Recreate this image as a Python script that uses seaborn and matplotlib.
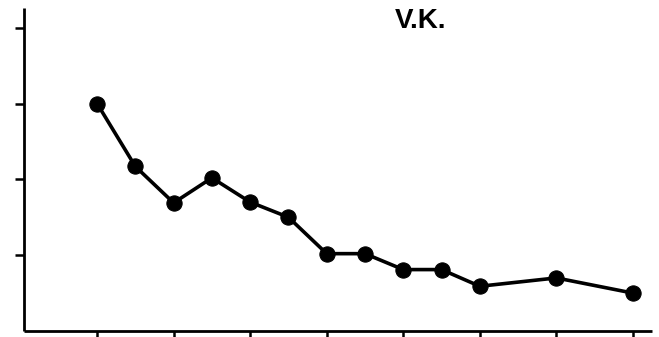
import matplotlib
matplotlib.use("Agg")
import matplotlib.pyplot as plt
import seaborn as sns
import pandas as pd

# Measurements per session for subject V.K.
sessions = [2, 3, 4, 5, 6, 7, 8, 9, 10, 11, 12, 14, 16]
values = [3.0, 2.17, 1.69, 2.02, 1.70, 1.50, 1.02, 1.02, 0.81, 0.81, 0.59, 0.70, 0.50]
x_ticks = [2, 4, 6, 8, 10, 12, 14, 16]
y_ticks = [1, 2, 3, 4]
subject = "V.K."

df = pd.DataFrame({"session": sessions, "value": values})

sns.set_style("ticks")
plt.rcParams["font.family"] = ["Liberation Sans", "DejaVu Sans"]

fig = plt.figure(figsize=(6.59, 3.37), dpi=100)
ax = fig.add_axes([0.0364, 0.0178, 0.953, 0.9585])

sns.lineplot(data=df, x="session", y="value", ax=ax, color="black",
             linewidth=2.6, marker="o", markersize=11,
             markerfacecolor="black", markeredgecolor="black")

ax.set_xlim(0.09, 16.5)
ax.set_ylim(0, 4.26)
ax.set_xticks(x_ticks)
ax.set_yticks(y_ticks)
ax.set_xticklabels([])
ax.set_yticklabels([])
ax.set_xlabel("")
ax.set_ylabel("")
ax.tick_params(axis="both", direction="out", length=6.5, width=1.8, color="black")
for side in ("right", "top"):
    ax.spines[side].set_visible(False)
for side in ("left", "bottom"):
    ax.spines[side].set_linewidth(2.0)
    ax.spines[side].set_color("black")
    ax.spines[side].set_capstyle("butt")

fig.text(421 / 659, 1 - 21 / 337, subject, ha="center", va="center",
         fontsize=20, fontweight="bold", color="black")

fig.savefig("out.png", dpi=100, facecolor="white")
